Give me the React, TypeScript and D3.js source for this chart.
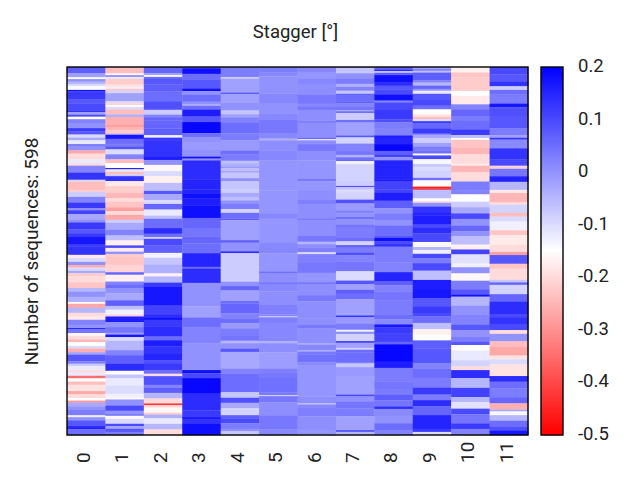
import React from "react";
import * as d3 from "d3";

const columns = ["0","1","2","3","4","5","6","7","8","9","10","11"];
const colorTicks = [0.2,0.1,0,-0.1,-0.2,-0.3,-0.4,-0.5];
const title = "Stagger [°]";
const yTitle = "Number of sequences: 598";
type Run = [number, number];

const col0: Run[] = [[10,.07],[6,-.02],[3,-.14],[4,0],[4,-.05],[3,-.1],[6,-.14],[2,.18],[13,.12],[6,.08],[11,.1],[3,.13],[4,-.02],[3,.1],[4,-.15],[6,.02],[8,0],[5,.12],[5,.08],[5,-.1],[4,-.03],[6,-.12],[4,.03],[6,0],[5,-.27],[9,-.2],[6,-.12],[4,-.2],[11,.02],[11,.13],[3,-.1],[13,-.24],
[3,-.22],[8,-.08],[9,.02],[9,.12],[3,0],[6,.11],[9,-.03],[4,0],[11,.12],[6,.08],[6,.12],[11,.17],[4,.12],[13,.13],[5,-.18],[6,-.1],[5,0],[4,-.26],[5,-.1],[4,-.03],[5,-.22],[9,-.2],[9,-.23],[6,-.05],[8,0],[8,-.04],[3,-.16],[6,-.27],[8,-.05],[6,-.2],
[5,-.18],[9,.02],[4,0],[2,.15],[6,.04],[4,-.16],[6,-.2],[4,-.25],[6,-.15],[4,-.1],[6,-.26],[4,-.02],[10,.08],[4,.02],[4,-.08],[6,-.12],[4,-.2],[5,-.12],[4,-.35],[5,-.15],[5,-.24],[10,-.19],[5,-.27],[6,-.2],[4,-.15],[3,-.3],[6,-.03],[5,0],[9,.03],[3,-.13],[5,0],[9,.08],[5,.15],[9,.05]];
const col1: Run[] = [[10,-.24],[3,-.17],[3,0],[3,-.12],[9,-.22],[4,-.19],[3,-.13],[3,-.23],[4,-.09],[13,-.02],[3,-.1],[3,-.21],[3,-.15],[4,-.1],[8,-.24],[4,-.04],[13,-.26],[4,-.28],[4,-.25],[6,-.22],[2,0],[6,.17],[8,.05],[4,.03],[5,.08],[8,-.1],[8,.02],[6,-.24],[8,-.15],[2,.16],[4,-.12],[4,-.24],[3,-.08],[8,.13],[8,-.18],[5,-.22],
[6,-.22],[8,-.25],[6,-.2],[9,-.23],[6,-.28],[6,-.2],[8,-.27],[5,-.08],[11,-.03],[9,.02],[8,-.06],[8,-.17],[4,.1],[6,-.18],[4,0],[4,-.22],[13,-.23],[12,-.21],[4,.06],[11,-.17],[5,.02],[6,.05],[8,0],[11,-.03],[9,.07],[6,-.06],[8,-.13],
[3,-.22],[9,.16],[8,0],[9,.04],[3,-.02],[4,.17],[6,-.1],[15,-.05],[8,.02],[14,.07],[11,.14],[6,-.15],[6,-.07],[12,-.12],[13,-.1],[6,-.13],[3,-.16],[10,0],[8,.1],[6,0],[2,.08],[5,-.16],[8,-.1],[4,.1],[4,-.03],[5,.08],[5,.03]];
const col2: Run[] = [[10,.06],[3,-.02],[3,-.14],[3,.05],[9,.08],[11,.07],[17,.05],[13,.09],[8,-.08],[4,.02],[5,.06],[13,.06],[11,.07],[4,-.13],[4,.12],[27,.13],[5,.16],[8,0],[10,-.16],[8,-.1],[11,-.17],[13,-.06],
[5,.08],[10,-.03],[6,-.1],[9,.06],[10,-.12],[5,-.06],[15,.05],[9,.14],[6,.05],[2,-.14],[11,.1],[12,.07],[8,-.13],[11,-.07],[14,-.04],[5,-.17],[10,-.05],[6,.12],[31,.17],[15,.11],
[5,.14],[3,.18],[11,.12],[16,.14],[6,.05],[10,.16],[12,.13],[10,.15],[6,.09],[10,.12],[6,.05],[4,-.2],[14,.09],[5,.02],[8,.07],[9,-.05],[8,-.2],[3,-.42],[4,-.2],[8,-.16],[3,-.22],[6,-.04],[9,-.12],[9,-.05],[9,-.2]];
const col3: Run[] = [[2,.05],[9,.18],[9,.05],[15,.08],[4,.18],[6,0],[11,.05],[4,0],[3,-.03],[6,.05],[11,.16],[9,.08],[18,.19],[6,.05],[8,0],[13,-.01],[11,0],[3,.18],[3,0],[31,.14],[16,.15],
[6,.15],[8,.18],[12,.16],[20,.18],[16,.06],[14,.04],[11,.06],[16,.05],[22,.15],[3,.05],[23,.14],[38,0],[14,-.02],
[4,-.02],[15,.05],[27,.02],[43,0],[5,.18],[8,.1],[25,.19],[27,.14],[11,.12],[4,.17],[6,.13],[19,.18]];
const col4: Run[] = [[16,.03],[3,-.08],[22,-.02],[3,.07],[14,-.02],[12,0],[6,-.07],[5,-.02],[8,.02],[18,.05],[11,.03],[17,-.01],[6,.05],[10,.03],[5,-.06],[4,-.04],[3,-.01],[5,-.06],[2,0],[9,-.07],[5,0],[13,-.07],
[6,-.08],[6,-.03],[6,-.06],[5,0],[9,.03],[6,-.09],[9,.05],[3,.07],[22,-.02],[10,-.02],[4,.07],[14,0],[3,.14],[30,-.08],[16,-.08],[7,0],[7,.06],[17,-.02],[4,.05],[16,.06],
[8,.02],[8,.05],[8,-.01],[11,.03],[9,.04],[4,-.05],[9,0],[5,.08],[27,-.03],[8,.02],[5,.05],[25,.05],[9,-.07],[8,.09],[9,-.03],[11,-.09],[5,.07],[8,.1],[9,.03],[4,.0],[6,-.07]];
const col5: Run[] = [[9,.03],[6,.015],[28,0],[15,.015],[17,0],[11,.015],[22,.035],[8,.015],[3,-.04],[16,.005],[16,.015],[49,-.005],
[38,-.005],[8,.015],[39,-.005],[17,.015],[30,-.005],[2,.05],[15,.005],[4,.035],[11,.015],[22,.005],[15,.025],
[3,.015],[2,-.07],[9,.025],[30,.015],[3,-.04],[15,.005],[26,-.015],[6,.025],[8,.035],[25,.045],[4,.035],[2,-.08],[10,.035],[22,.005],[22,.035],[9,.015]];
const col6: Run[] = [[9,.015],[9,-.005],[9,.015],[17,.005],[15,.035],[4,.015],[6,.035],[17,.005],[4,.025],[24,.005],[2,.055],[2,-.11],[6,.005],[11,.035],[15,.005],[30,-.005],[4,.035],[14,-.005],
[16,.005],[6,.025],[24,.005],[2,.035],[25,.005],[10,.035],[4,-.045],[5,.005],[8,.025],[3,-.1],[14,.025],[16,.035],[15,-.005],[3,.035],[18,.005],[10,.035],[22,.005],
[5,.005],[11,.005],[5,.035],[24,.005],[3,-.035],[8,.015],[3,-.035],[4,.035],[13,.045],[4,.015],[51,-.005],[11,.005],[2,-.06],[5,.015],[14,.025],[22,.005],[8,-.005]];
const col7: Run[] = [[2,-.01],[8,-.07],[8,0],[9,.03],[5,-.04],[6,.02],[5,-.07],[2,.07],[10,.05],[3,.07],[5,.02],[6,.04],[2,-.03],[3,.05],[11,-.08],[4,.05],[21,-.02],[3,.08],[10,-.09],[12,.02],[6,.04],[4,-.04],[3,.05],[3,.06],[5,-.13],[27,-.09],[8,-.08],[2,.09],[4,-.07],
[5,-.1],[11,-.09],[6,.09],[11,-.01],[5,.02],[6,0],[3,.05],[9,0],[5,.04],[16,.03],[6,.05],[6,-.09],[4,.07],[8,.03],[4,.09],[10,.02],[16,.04],[15,-.1],[6,.08],[9,-.02],[6,.07],[9,.05],[23,-.02],
[3,-.02],[3,.12],[10,-.01],[10,.03],[3,-.14],[4,0],[11,-.09],[3,.1],[8,-.02],[3,-.09],[4,.05],[16,.05],[2,.04],[6,-.07],[14,-.01],[30,-.02],[3,.1],[8,0],[11,.04],[13,.03],[22,-.02],[3,.08],[5,-.05]];
const col8: Run[] = [[4,.06],[3,.14],[2,-.13],[4,.07],[12,.18],[5,.14],[6,.08],[8,.1],[10,.18],[3,.02],[12,.1],[15,.12],[5,.09],[9,.03],[12,.02],[4,.16],[10,.15],[11,.19],[6,.07],[4,.11],[5,0],[31,.15],[2,.18],[14,.11],
[5,.11],[13,.16],[12,.07],[9,0],[10,.03],[9,0],[16,.05],[4,.08],[5,.18],[4,.1],[5,.13],[25,.03],[16,.02],[15,.15],[6,.07],[10,.02],[14,.04],[23,.03],
[8,.05],[8,.01],[5,.17],[9,.12],[14,.11],[4,.06],[28,.19],[10,.16],[22,.03],[13,.04],[8,.03],[9,.07],[10,.04],[4,.14],[11,.01],[12,0],[11,.05],[8,.02]];
const col9: Run[] = [[3,-.03],[3,.02],[3,-.06],[12,.07],[4,.02],[5,-.05],[5,.06],[3,0],[5,-.12],[10,.08],[9,.1],[6,.05],[8,-.15],[4,-.19],[4,-.24],[3,-.1],[3,.12],[9,.06],[8,.12],[2,.02],[5,-.03],[8,-.08],[6,-.02],[6,.03],[5,.05],[3,-.15],[6,.1],[8,-.14],[4,-.07],[6,-.1],[12,-.09],[4,.05],[10,-.15],[3,-.45],
[2,-.45],[14,-.06],[4,-.15],[3,-.2],[6,0],[9,.13],[5,.15],[15,.16],[5,.1],[9,.14],[14,.1],[8,-.16],[5,-.05],[6,-.13],[7,.1],[8,.03],[12,.1],[15,-.06],[16,.16],[13,.17],[14,.08],[10,.12],
[5,.1],[11,.05],[10,-.06],[9,-.17],[9,-.15],[13,.07],[24,.08],[8,.02],[15,.05],[16,.03],[11,.12],[9,.03],[10,.14],[14,.06],[22,.15],[5,.12],[5,-.1]];
const col10: Run[] = [[9,-.17],[8,-.23],[22,-.22],[8,-.15],[14,-.18],[8,.02],[11,.06],[8,.03],[14,.05],[9,.12],[5,-.06],[3,-.15],[13,-.23],[10,-.25],[16,-.2],[3,-.17],[11,-.25],[15,-.2],[14,.03],
[7,.02],[12,-.15],[9,-.08],[10,-.03],[9,.1],[11,0],[9,.06],[8,0],[14,-.06],[8,-.17],[8,.11],[15,-.11],[6,-.13],[10,0],[12,-.16],[14,.03],[9,.08],[3,.18],[15,-.05],[15,0],
[16,.02],[9,.08],[11,0],[8,.03],[5,.08],[9,-.15],[16,-.12],[10,-.09],[6,-.2],[13,.14],[16,-.05],[15,.11],[8,-.05],[11,-.11],[9,.1],[15,.04],[9,.12],[10,.02]];
const col11: Run[] = [[12,.1],[11,.08],[8,.13],[6,-.08],[6,.05],[16,.03],[6,.17],[15,.09],[19,.08],[11,.03],[4,-.02],[3,.12],[14,.01],[18,.13],[10,.1],[5,-.21],[12,.04],[9,.15],[13,-.05],
[5,-.18],[15,-.25],[4,-.2],[13,-.09],[6,-.24],[8,-.1],[14,-.13],[8,-.23],[16,-.18],[11,-.2],[5,-.28],[14,.08],[8,-.23],[18,-.2],[4,-.07],[4,.06],[15,-.09],[12,.06],[20,.14],
[5,.1],[11,.13],[10,.1],[6,-.2],[12,0],[9,-.24],[14,-.27],[6,-.19],[8,-.1],[19,-.19],[9,.14],[11,.05],[14,.03],[10,.06],[10,-.26],[3,-.03],[6,-.14],[9,-.05],[10,.05],[6,.09],[7,.17]];
const heat = [col0,col1,col2,col3,col4,col5,col6,col7,col8,col9,col10,col11];

const FONT = "Roboto, sans-serif";
const left = 67, right = 528, top = 67, bottom = 435;
const barL = 541, barR = 563;

export default function App() {
  const x = d3.scaleBand<string>().domain(columns).range([left, right]);
  const color = d3.scaleLinear<string>().domain([-0.5,-0.15,0.2]).range(["#ff0000","#ffffff","#0000ff"]);
  const barY = d3.scaleLinear().domain([-0.5,0.2]).range([bottom, top]);
  const steps = d3.range(-0.5, 0.2, 0.7/184);
  return (
    <svg width={640} height={480} style={{position:"absolute",left:0,top:0,background:"#fff"}} fontFamily={FONT}>
      {heat.map((runs, c) => {
        const total = d3.sum(runs, r => r[0]);
        const y = d3.scaleLinear().domain([0,total]).range([top,bottom]);
        let acc = 0;
        return <g key={c}>{runs.map((r,i) => {
          const a = acc; acc += r[0];
          return <rect key={i} x={x(columns[c])} width={x.bandwidth()+0.4} y={y(a)} height={y(a+r[0])-y(a)+0.3} fill={color(r[1])}/>;
        })}</g>;
      })}
      <rect x={left} y={top} width={right-left} height={bottom-top} fill="none" stroke="#000" strokeWidth={1.4}/>
      {steps.map((v,i)=>(
        <rect key={i} x={barL} width={barR-barL} y={barY(v+0.7/184)} height={barY(v)-barY(v+0.7/184)+0.4} fill={color(v)}/>
      ))}
      <rect x={barL} y={top} width={barR-barL} height={bottom-top} fill="none" stroke="#000" strokeWidth={1.4}/>
      {colorTicks.map(t=>(
        <text key={t} x={578} y={barY(t)+5} fontSize={18.5} fill="#222">{String(t)}</text>
      ))}
      {columns.map(c=>{
        const cx=(x(c) as number)+x.bandwidth()/2;
        return <text key={c} transform={`translate(${cx+3.8},${463}) rotate(-90)`} fontSize={19} fill="#222" textAnchor="start">{c}</text>;
      })}
      <text x={295.5} y={38} textAnchor="middle" fontSize={18.5} fill="#222">{title}</text>
      <text transform="translate(38,251.5) rotate(-90)" textAnchor="middle" fontSize={19} fill="#222">{yTitle}</text>
    </svg>
  );
}
